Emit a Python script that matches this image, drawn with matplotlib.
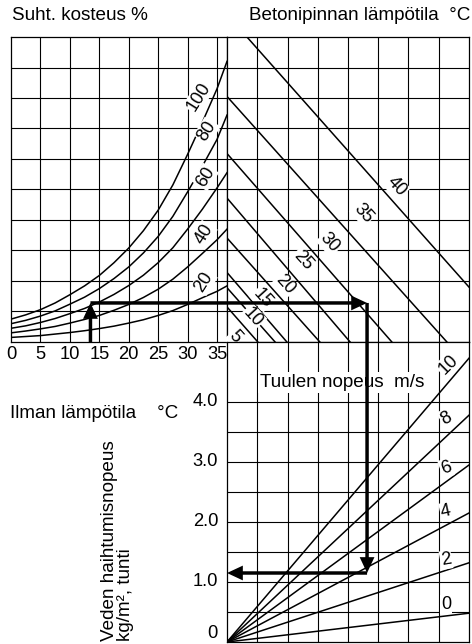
import matplotlib
matplotlib.use('Agg')
import matplotlib.pyplot as plt
from matplotlib.patches import ConnectionPatch
from matplotlib.transforms import ScaledTranslation
import numpy as np

plt.rcParams['font.family'] = ['Liberation Sans', 'DejaVu Sans']

# --- relative humidity curves (top left), level vs air temperature
air_temp = [0, 2.5, 5, 7.5, 10, 12.5, 15, 17.5, 20, 22.5, 25, 27.5, 30, 32.5, 35, 36.7]
rh_labels = ['100', '80', '60', '40', '20']
rh_100 = [0.75, 0.89, 1.06, 1.28, 1.55, 1.84, 2.18, 2.60, 3.08, 3.65, 4.32, 5.15, 6.15, 7.20, 8.30, 9.20]
rh_80 = [0.60, 0.71, 0.85, 1.02, 1.24, 1.47, 1.75, 2.08, 2.46, 2.92, 3.46, 4.12, 4.92, 5.76, 6.64, 7.44]
rh_60 = [0.45, 0.53, 0.64, 0.77, 0.93, 1.10, 1.31, 1.56, 1.85, 2.19, 2.60, 3.09, 3.70, 4.35, 5.05, 5.55]
rh_40 = [0.30, 0.36, 0.43, 0.51, 0.62, 0.74, 0.87, 1.04, 1.23, 1.46, 1.73, 2.06, 2.46, 2.90, 3.35, 3.70]
rh_20 = [0.15, 0.18, 0.21, 0.26, 0.31, 0.37, 0.44, 0.52, 0.62, 0.73, 0.87, 1.03, 1.23, 1.45, 1.66, 1.84]
air_ticks = [0, 5, 10, 15, 20, 25, 30, 35]

# --- concrete surface temperature lines (top right)
concrete_labels = ['5', '10', '15', '20', '25', '30', '35', '40']
concrete_x0 = [0, 0, 0, 0, 0, 0, 0, 0.66]
concrete_y0 = [1.15, 1.78, 2.28, 3.41, 4.72, 6.18, 8.05, 10.0]
concrete_x1 = [1.02, 1.59, 1.98, 3.07, 4.07, 5.45, 7.27, 8.0]
concrete_y1 = [0, 0, 0, 0, 0, 0, 0, 1.80]

# --- wind speed lines (bottom), evaporation rate at right edge
wind_labels = ['0', '2', '4', '6', '8', '10']
wind_rate_end = [0.48, 1.32, 2.15, 2.95, 3.78, 4.73]
rate_ticks = [0, 1, 2, 3, 4]
rate_ticklabels = ['0', '1.0', '2.0', '3.0', '4.0']

# --- worked example
ex_air = 13.5
ex_level = 1.28
ex_x = 4.63
ex_rate = 1.15

W, H = 472, 644
FS = 13.6
fig = plt.figure(figsize=(W / 100, H / 100), dpi=100)


def rect(x0, y0, x1, y1):
    return [x0 / W, 1 - y1 / H, (x1 - x0) / W, (y1 - y0) / H]


ax1 = fig.add_axes(rect(11, 37, 227, 342))
ax2 = fig.add_axes(rect(227, 37, 469, 342))
ax3 = fig.add_axes(rect(227, 342, 469, 642))

ax1.set_xlim(0, 36.7)
ax1.set_ylim(0, 10)
ax2.set_xlim(0, 8)
ax2.set_ylim(0, 10)
ax3.set_xlim(0, 8)
ax3.set_ylim(0, 5)

gkw = dict(color='black', lw=0.8, zorder=1)
for ax in (ax1, ax2, ax3):
    ax.set_xticks([])
    ax.set_yticks([])
    for s in ax.spines.values():
        s.set_linewidth(0.9)
for t in air_ticks[1:]:
    ax1.axvline(t, **gkw)
for v in range(1, 10):
    ax1.axhline(v, **gkw)
    ax2.axhline(v, **gkw)
for v in range(1, 8):
    ax2.axvline(v, **gkw)
    ax3.axvline(v, **gkw)
for v in np.arange(0.5, 4.01, 0.5):
    ax3.axhline(v, **gkw)

ax1.set_xticks(air_ticks)
ax1.tick_params(axis='x', length=0, pad=3, labelsize=13.2)

lab_box = dict(boxstyle='square,pad=0.05', fc='white', ec='none')

# humidity curves
for lab, vals in zip(rh_labels, [rh_100, rh_80, rh_60, rh_40, rh_20]):
    ax1.plot(air_temp, vals, color='black', lw=1.1, zorder=2)
rh_lab_x = [31.9, 33.3, 33.0, 32.8, 32.8]
rh_lab_y = [8.03, 6.92, 5.41, 3.54, 1.97]
for lab, x, y in zip(rh_labels, rh_lab_x, rh_lab_y):
    ax1.text(x, y, lab, rotation=58, rotation_mode='anchor', ha='center', va='center',
             fontsize=13, bbox=lab_box, zorder=4)

# concrete temperature lines
for x0, y0, x1, y1 in zip(concrete_x0, concrete_y0, concrete_x1, concrete_y1):
    ax2.plot([x0, x1], [y0, y1], color='black', lw=1.1, zorder=2)
c_lab_x = [0.26, 0.86, 1.19, 1.92, 2.51, 3.40, 4.50, 5.60]
c_lab_y = [0.16, 0.82, 1.44, 1.87, 2.69, 3.25, 4.23, 5.10]
for lab, x, y in zip(concrete_labels, c_lab_x, c_lab_y):
    ax2.text(x, y, lab, rotation=-48, rotation_mode='anchor', ha='center', va='center',
             fontsize=13, bbox=lab_box, zorder=4)

# wind lines
w_lab_x = [7.24, 7.24, 7.24, 7.24, 7.24, 7.31]
w_lab_y = [0.62, 1.37, 2.17, 2.90, 3.73, 4.62]
w_lab_rot = [0, 10, 12, 20, 30, 45]
for lab, r, x, y, rot in zip(wind_labels, wind_rate_end, w_lab_x, w_lab_y, w_lab_rot):
    ax3.plot([0, 8], [0, r], color='black', lw=1.1, zorder=2)
    ax3.text(x, y, lab, rotation=rot, rotation_mode='anchor', ha='center', va='center',
             fontsize=13, bbox=lab_box, zorder=4)

ax3.text(1.09, 4.33, 'Tuulen nopeus  m/s', ha='left', va='center', fontsize=FS,
         bbox=dict(boxstyle='square,pad=0.1', fc='white', ec='none'), zorder=4)

# evaporation rate tick labels
off = ScaledTranslation(-9 / 100, 0, fig.dpi_scale_trans)
for v, lab in zip(rate_ticks, rate_ticklabels):
    ax3.text(0, v, lab, ha='right', va='bottom' if v == 0 else 'center', fontsize=13.2,
             transform=ax3.transData + off, clip_on=False)

# example path
akw = dict(arrowstyle='-|>,head_length=0.6,head_width=0.28', lw=2.5, color='black',
           mutation_scale=12, shrinkA=0, shrinkB=0, joinstyle='miter', capstyle='butt',
           zorder=6)
for (pa, axa), (pb, axb) in [
        (((ex_air, 0), ax1), ((ex_air, ex_level), ax1)),
        (((ex_air, ex_level), ax1), ((ex_x, ex_level), ax2)),
        (((ex_x, ex_level), ax2), ((ex_x, ex_rate), ax3)),
        (((ex_x, ex_rate), ax3), ((0, ex_rate), ax3))]:
    con = ConnectionPatch(xyA=pa, coordsA=axa.transData, xyB=pb, coordsB=axb.transData, **akw)
    fig.add_artist(con)

# titles and axis texts
fig.text(12 / W, 1 - 15 / H, 'Suht. kosteus %', ha='left', va='center', fontsize=FS)
fig.text(470 / W, 1 - 15 / H, 'Betonipinnan lämpötila  °C', ha='right', va='center', fontsize=FS)
fig.text(10 / W, 1 - 413 / H, 'Ilman lämpötila    °C', ha='left', va='center', fontsize=FS)
fig.text(110 / W, 1 - 641 / H, 'Veden haihtumisnopeus', rotation=90, ha='center', va='bottom',
         fontsize=FS)
fig.text(126 / W, 1 - 641 / H, 'kg/m², tunti', rotation=90, ha='center', va='bottom', fontsize=FS)

fig.savefig('out.png', dpi=100)
